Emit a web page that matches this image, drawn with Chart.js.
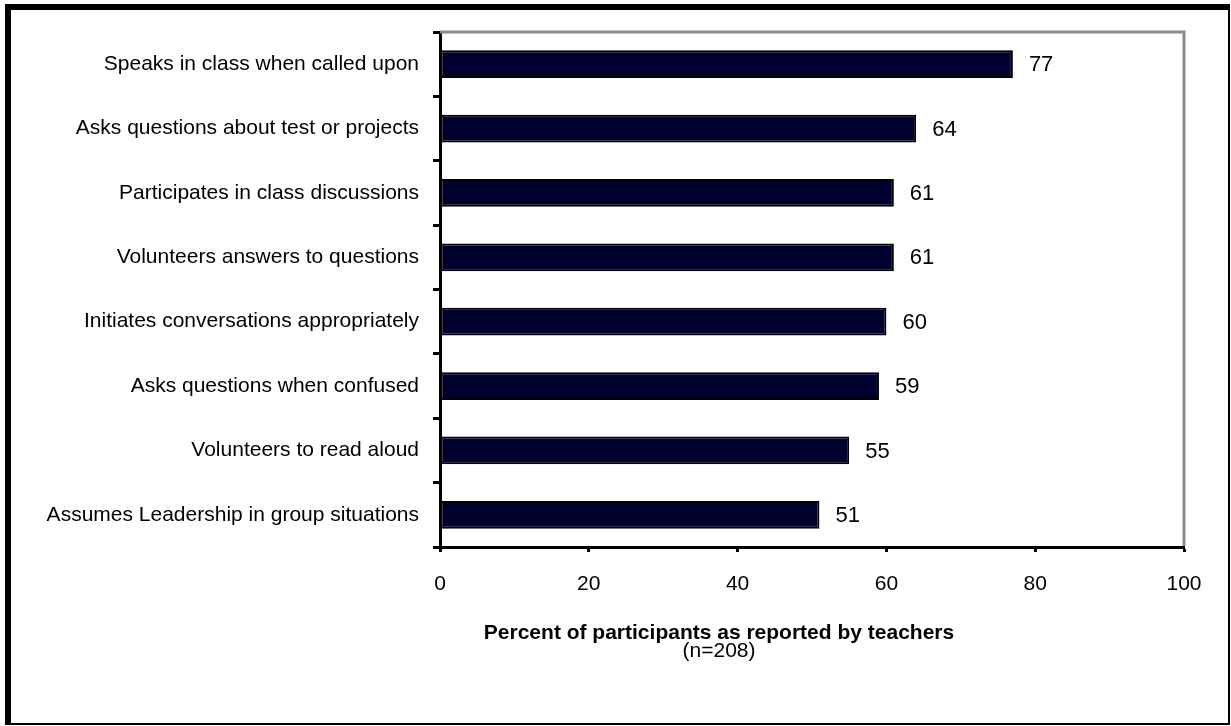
<!DOCTYPE html>
<html>
<head>
<meta charset="utf-8">
<script src="https://cdn.jsdelivr.net/npm/chart.js@4/dist/chart.umd.min.js"></script>
<style>
  html, body { margin: 0; padding: 0; background: #fff; }
  #wrap { position: relative; width: 1231px; height: 726px; }
</style>
</head>
<body>
<div id="wrap"><canvas id="barChart" width="1231" height="726"></canvas></div>
<script>
const categories = [
  'Speaks in class when called upon',
  'Asks questions about test or projects',
  'Participates in class discussions',
  'Volunteers answers to questions',
  'Initiates conversations appropriately',
  'Asks questions when confused',
  'Volunteers to read aloud',
  'Assumes Leadership in group situations'
];
const percents = [77, 64, 61, 61, 60, 59, 55, 51];
const xTicks = [0, 20, 40, 60, 80, 100];
const axisTitle = 'Percent of participants as reported by teachers';
const axisSubtitle = '(n=208)';

const FONT = "'Liberation Sans', Arial, sans-serif";

// outer frame + gray top/right plot border
const framePlugin = {
  id: 'frame',
  beforeDraw(chart) {
    const ctx = chart.ctx;
    ctx.save();
    ctx.fillStyle = '#fff';
    ctx.fillRect(0, 0, chart.width, chart.height);
    ctx.fillStyle = '#000';
    ctx.fillRect(5, 4, 6, 721);     // left, thick
    ctx.fillRect(5, 4, 1225, 6);    // top, thick
    ctx.fillRect(1228, 4, 2, 721);  // right, thin
    ctx.fillRect(5, 723, 1225, 2);  // bottom, thin
    ctx.restore();
  },
  afterDraw(chart) {
    const a = chart.chartArea;
    const ctx = chart.ctx;
    ctx.save();
    ctx.strokeStyle = '#8c8c8c';
    ctx.lineWidth = 3;
    ctx.beginPath();
    ctx.moveTo(a.left, a.top);
    ctx.lineTo(a.right, a.top);
    ctx.lineTo(a.right, a.bottom - 1);
    ctx.stroke();

    // axis title below the tick labels
    ctx.fillStyle = '#000';
    ctx.textAlign = 'center';
    ctx.textBaseline = 'middle';
    ctx.font = 'bold 21px ' + FONT;
    ctx.fillText(axisTitle, 719, 633);
    ctx.font = '21px ' + FONT;
    ctx.fillText(axisSubtitle, 719, 651);
    ctx.restore();
  }
};

const valueLabels = {
  id: 'valueLabels',
  afterDatasetsDraw(chart) {
    const ctx = chart.ctx;
    const meta = chart.getDatasetMeta(0);
    ctx.save();
    ctx.fillStyle = '#000';
    ctx.font = '22px ' + FONT;
    ctx.textAlign = 'left';
    ctx.textBaseline = 'middle';
    meta.data.forEach((bar, i) => {
      ctx.fillText(String(percents[i]), bar.x + 16, bar.y + 1);
    });
    ctx.restore();
  }
};

new Chart(document.getElementById('barChart'), {
  type: 'bar',
  data: {
    labels: categories,
    datasets: [{
      data: percents,
      backgroundColor: '#00002e',
      borderColor: '#000',
      borderWidth: 2,
      borderSkipped: false,
      barPercentage: 0.43,
      categoryPercentage: 1
    }]
  },
  options: {
    indexAxis: 'y',
    responsive: false,
    animation: false,
    layout: { padding: { left: 0, top: 32, right: 47, bottom: 0 } },
    plugins: {
      legend: { display: false },
      tooltip: { enabled: false }
    },
    scales: {
      x: {
        min: 0,
        max: 100,
        afterFit(scale) { scale.height = 179; },
        afterBuildTicks(scale) { scale.ticks = xTicks.map(v => ({ value: v })); },
        grid: {
          drawOnChartArea: false,
          drawTicks: true,
          tickLength: 5,
          tickWidth: 3,
          tickColor: '#000'
        },
        border: { display: true, color: '#000', width: 3 },
        ticks: {
          color: '#000',
          padding: 20,
          font: { family: FONT, size: 21 }
        }
      },
      y: {
        afterFit(scale) { scale.width = 440; },
        grid: {
          offset: true,
          drawOnChartArea: false,
          drawTicks: true,
          tickLength: 7,
          tickWidth: 3,
          tickColor: '#000'
        },
        border: { display: true, color: '#000', width: 3 },
        ticks: {
          color: '#000',
          padding: 14,
          font: { family: FONT, size: 21 }
        }
      }
    }
  },
  plugins: [framePlugin, valueLabels]
});
</script>
</body>
</html>
